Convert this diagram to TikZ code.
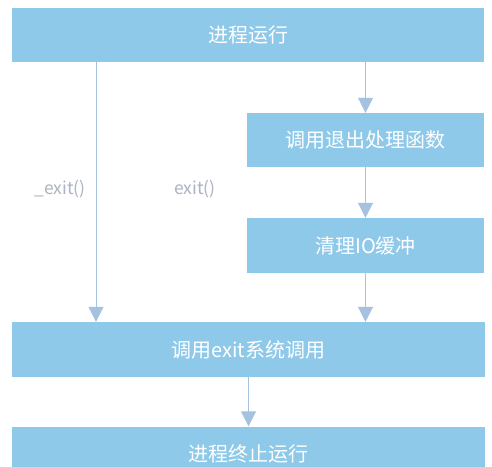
\documentclass[tikz,border=0pt]{standalone}
\usepackage{fontspec}
\setmainfont{Noto Sans CJK SC}
\usetikzlibrary{arrows.meta}
\definecolor{boxblue}{RGB}{143,201,233}
\definecolor{linecol}{RGB}{165,195,225}
\definecolor{labelgray}{RGB}{170,180,195}
\tikzset{
  box/.style={fill=boxblue, draw=none, text=white, inner sep=0pt, font=\fontsize{20}{24}\selectfont},
  conn/.style={draw=linecol, line width=1pt, -{Triangle[width=15pt,length=15pt]}},
  lbl/.style={text=labelgray, font=\fontsize{17.5}{20}\selectfont, inner sep=0pt}
}
\begin{document}
\begin{tikzpicture}[x=1pt,y=1pt]
\clip (0,0) rectangle (492,-466);
\fill[white] (0,0) rectangle (492,-466);
\node[box, minimum width=472pt, minimum height=54pt] (run) at (248,-35) {进程运行};
\node[box, minimum width=237pt, minimum height=54pt] (handler) at (365.5,-140) {调用退出处理函数};
\node[box, minimum width=237pt, minimum height=55pt] (flush) at (365.5,-245.5) {清理IO缓冲};
\node[box, minimum width=473pt, minimum height=55pt] (sys) at (248.5,-349.5) {调用exit系统调用};
\node[box, minimum width=473pt, minimum height=54pt] (term) at (248.5,-453.5) {进程终止运行};
\node[lbl] (l1) at (60,-189) {\_exit()};
\node[lbl] (l2) at (195,-189) {exit()};
\draw[conn] (run.south -| 96,0) -- (sys.north -| 96,0);
\draw[conn] (run.south -| handler.north) -- (handler.north);
\draw[conn] (handler.south) -- (flush.north);
\draw[conn] (flush.south) -- (sys.north -| flush.south);
\draw[conn] (sys.south) -- (term.north);
\end{tikzpicture}
\end{document}
